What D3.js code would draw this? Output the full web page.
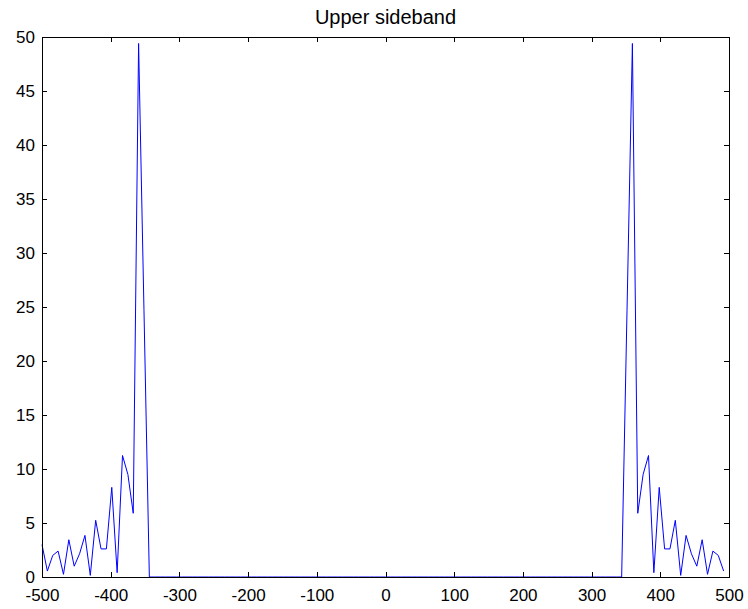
<!DOCTYPE html>
<html>
<head>
<meta charset="utf-8">
<script src="https://cdn.jsdelivr.net/npm/d3@7"></script>
<style>
  html, body { margin: 0; padding: 0; background: #fff; }
  svg { display: block; }
  text { font-family: "Liberation Sans", Arial, sans-serif; }
</style>
</head>
<body>
<svg id="chart" width="748" height="609"></svg>
<script>
// ---- data ----
const title = "Upper sideband";
const freqStart = -500;      // first frequency bin
const freqStep = 7.8125;     // 1000 / 128
// magnitude for bins k = 0 .. 20 (left band, -500 ... -343.75)
const leftBand = [3.0, 0.55, 2.0, 2.4, 0.25, 3.45, 1.0, 2.15, 3.85, 0.15,
                  5.25, 2.6, 2.6, 8.3, 0.4, 11.25, 9.5, 5.9, 49.4, 24.7, 0];
// magnitude for bins k = 108 .. 127 (right band, 343.75 ... 492.1875)
const rightBand = [0, 24.7, 49.4, 5.9, 9.5, 11.25, 0.4, 8.3, 2.6, 2.6, 5.25,
                   0.15, 3.85, 2.15, 1.0, 3.45, 0.25, 2.4, 2.0, 0.55];
const nBins = 128;
const xTicks = [-500, -400, -300, -200, -100, 0, 100, 200, 300, 400, 500];
const yTicks = [0, 5, 10, 15, 20, 25, 30, 35, 40, 45, 50];

// build full series
const magnitudes = [];
for (let k = 0; k < nBins; k++) {
  let v = 0;
  if (k < leftBand.length) v = leftBand[k];
  else if (k >= nBins - rightBand.length) v = rightBand[k - (nBins - rightBand.length)];
  magnitudes.push(v);
}
const series = magnitudes.map((v, k) => ({ f: freqStart + k * freqStep, v }));

// ---- layout ----
const svg = d3.select("#chart");
const L = 42, R = 729, T = 37, B = 577;

const x = d3.scaleLinear().domain([-500, 500]).range([L, R]);
const y = d3.scaleLinear().domain([0, 50]).range([B, T]);

// data line
svg.append("path")
  .datum(series)
  .attr("fill", "none")
  .attr("stroke", "#0000ff")
  .attr("stroke-width", 1)
  .attr("d", d3.line().x(d => x(d.f)).y(d => y(d.v)));

// axes (ticks inward, mirrored on top/right)
const fmt = d => String(d);   // plain hyphen-minus like the reference
const tickLen = 5;
const bottomAxis = d3.axisBottom(x).tickValues(xTicks).tickSizeInner(-tickLen).tickSizeOuter(0).tickPadding(12)
  .tickFormat(fmt);
const topAxis = d3.axisTop(x).tickValues(xTicks).tickSizeInner(-tickLen).tickSizeOuter(0).tickFormat("");
const leftAxis = d3.axisLeft(y).tickValues(yTicks).tickSizeInner(-tickLen).tickSizeOuter(0).tickPadding(7)
  .tickFormat(fmt);
const rightAxis = d3.axisRight(y).tickValues(yTicks).tickSizeInner(-tickLen).tickSizeOuter(0).tickFormat("");

function styleAxis(g) {
  g.select(".domain").attr("stroke", "#000").attr("stroke-width", 1).attr("shape-rendering", "crispEdges");
  g.selectAll(".tick line").attr("stroke", "#000").attr("stroke-width", 1).attr("shape-rendering", "crispEdges");
  g.selectAll(".tick text").attr("fill", "#000").style("font-size", "17px")
    .style("font-family", "'Liberation Sans', Arial, sans-serif");
}

svg.append("g").attr("transform", `translate(0,${B})`).call(bottomAxis).call(styleAxis);
svg.append("g").attr("transform", `translate(0,${T})`).call(topAxis).call(styleAxis);
svg.append("g").attr("transform", `translate(${L},0)`).call(leftAxis).call(styleAxis);
svg.append("g").attr("transform", `translate(${R},0)`).call(rightAxis).call(styleAxis);

// title
svg.append("text")
  .attr("x", (L + R) / 2)
  .attr("y", 24)
  .attr("text-anchor", "middle")
  .attr("fill", "#000")
  .style("font-size", "20px")
  .text(title);
</script>
</body>
</html>
